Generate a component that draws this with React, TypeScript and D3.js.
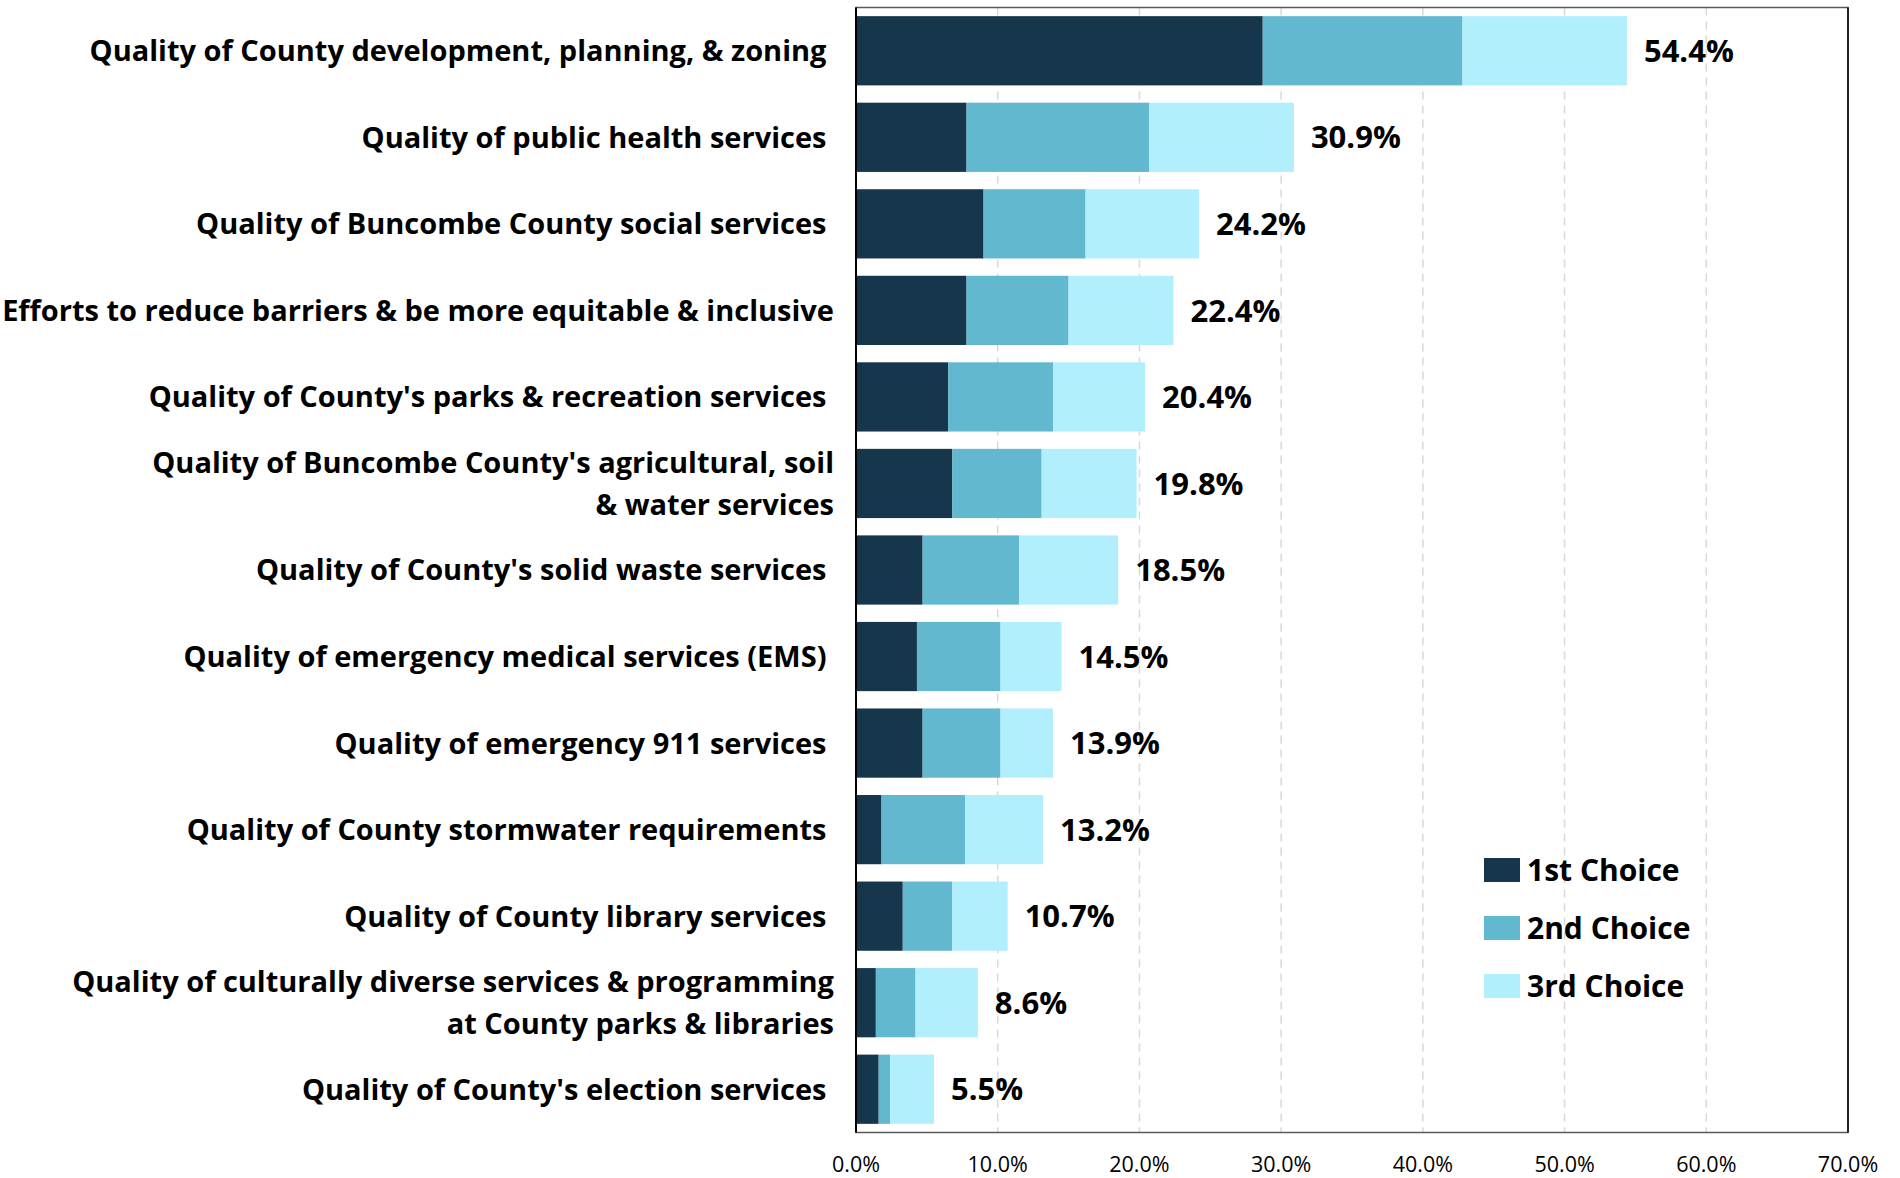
import { scaleBand, scaleLinear, stack, format } from 'd3';

// categories, top to bottom ("|" marks the wrapped line)
const categories = [
  'Quality of County development, planning, & zoning ',
  'Quality of public health services ',
  'Quality of Buncombe County social services ',
  'Efforts to reduce barriers & be more equitable & inclusive',
  "Quality of County's parks & recreation services ",
  "Quality of Buncombe County's agricultural, soil|& water services",
  "Quality of County's solid waste services ",
  'Quality of emergency medical services (EMS) ',
  'Quality of emergency 911 services ',
  'Quality of County stormwater requirements ',
  'Quality of County library services ',
  'Quality of culturally diverse services & programming|at County parks & libraries',
  "Quality of County's election services ",
];

const firstChoice = [28.7, 7.8, 9.0, 7.8, 6.5, 6.8, 4.7, 4.3, 4.7, 1.8, 3.3, 1.4, 1.6];
const secondChoice = [14.1, 12.9, 7.2, 7.2, 7.4, 6.3, 6.8, 5.9, 5.5, 5.9, 3.5, 2.8, 0.8];
const thirdChoice = [11.6, 10.2, 8.0, 7.4, 6.5, 6.7, 7.0, 4.3, 3.7, 5.5, 3.9, 4.4, 3.1];
const totals = [54.4, 30.9, 24.2, 22.4, 20.4, 19.8, 18.5, 14.5, 13.9, 13.2, 10.7, 8.6, 5.5];

const seriesNames = ['1st Choice', '2nd Choice', '3rd Choice'];
const seriesColors = ['#16364b', '#62b8cf', '#b1effd'];
const xTicks = [0, 10, 20, 30, 40, 50, 60, 70];

const W = 1900;
const H = 1178;
const margin = { top: 7.5, right: 52, bottom: 45.5, left: 856 };
const FONT = '"Open Sans", Lato, sans-serif';

const App = () => {
  const innerW = W - margin.left - margin.right;
  const innerH = H - margin.top - margin.bottom;

  const x = scaleLinear().domain([0, 70]).range([0, innerW]);
  const y = scaleBand()
    .domain(categories)
    .range([0, innerH])
    .paddingInner(0.2)
    .paddingOuter(0.1);

  const rows = categories.map((c, i) => ({
    cat: c,
    s0: firstChoice[i],
    s1: secondChoice[i],
    s2: thirdChoice[i],
  }));
  const layers = stack().keys(['s0', 's1', 's2'])(rows as any);
  const pct = format('.1f');

  return (
    <svg
      width={W}
      height={H}
      style={{ position: 'absolute', left: 0, top: 0, background: '#fff' }}
    >
      <g transform={`translate(${margin.left},${margin.top})`}>
        {/* grid */}
        {xTicks.slice(1, -1).map((t) => (
          <line
            key={t}
            x1={x(t)}
            x2={x(t)}
            y1={0}
            y2={innerH}
            stroke="#d9d9d9"
            strokeWidth={1.5}
            strokeDasharray="8,6"
          />
        ))}

        {/* bars */}
        {layers.map((layer, li) => (
          <g key={li} fill={seriesColors[li]}>
            {layer.map((d: any, i: number) => (
              <rect
                key={i}
                x={x(d[0])}
                y={y(categories[i])}
                width={x(d[1]) - x(d[0])}
                height={y.bandwidth()}
              />
            ))}
          </g>
        ))}

        {/* totals */}
        {totals.map((v, i) => (
          <text
            key={i}
            x={x(v) + 17}
            y={(y(categories[i]) ?? 0) + y.bandwidth() / 2}
            dy="0.36em"
            fontFamily={FONT}
            fontWeight={700}
            fontSize={31}
            fill="#000"
          >
            {pct(v)}%
          </text>
        ))}

        {/* category labels */}
        {categories.map((c, i) => {
          const lines = c.split('|');
          const cy = (y(c) ?? 0) + y.bandwidth() / 2;
          const lh = 42;
          return (
            <text
              key={c}
              textAnchor="end"
              fontFamily={FONT}
              fontWeight={700}
              fontSize={29}
              fill="#000"
              style={{ whiteSpace: 'pre' }}
            >
              {lines.map((l, j) => (
                <tspan
                  key={j}
                  x={-22}
                  y={cy + (j - (lines.length - 1) / 2) * lh}
                  dy="0.36em"
                >
                  {l}
                </tspan>
              ))}
            </text>
          );
        })}

        {/* frame */}
        <rect
          x={0}
          y={0}
          width={innerW}
          height={innerH}
          fill="none"
          stroke="#595959"
          strokeWidth={1.5}
        />
        <line x1={0} x2={0} y1={0} y2={innerH} stroke="#000" strokeWidth={2} />
        <line x1={innerW} x2={innerW} y1={0} y2={innerH} stroke="#000" strokeWidth={1.5} />

        {/* x axis labels */}
        {xTicks.map((t) => (
          <text
            key={t}
            x={x(t)}
            y={innerH + 32}
            dy="0.36em"
            textAnchor="middle"
            fontFamily={FONT}
            fontSize={21.5}
            fill="#000"
          >
            {pct(t)}%
          </text>
        ))}

        {/* legend */}
        <g transform={`translate(${1484 - margin.left},${858 - margin.top})`}>
          {seriesNames.map((n, i) => (
            <g key={n} transform={`translate(0,${i * 58})`}>
              <rect width={36} height={24} fill={seriesColors[i]} />
              <text
                x={43}
                y={12}
                dy="0.36em"
                fontFamily={FONT}
                fontWeight={700}
                fontSize={30}
                fill="#000"
              >
                {n}
              </text>
            </g>
          ))}
        </g>
      </g>
    </svg>
  );
};

export default App;
